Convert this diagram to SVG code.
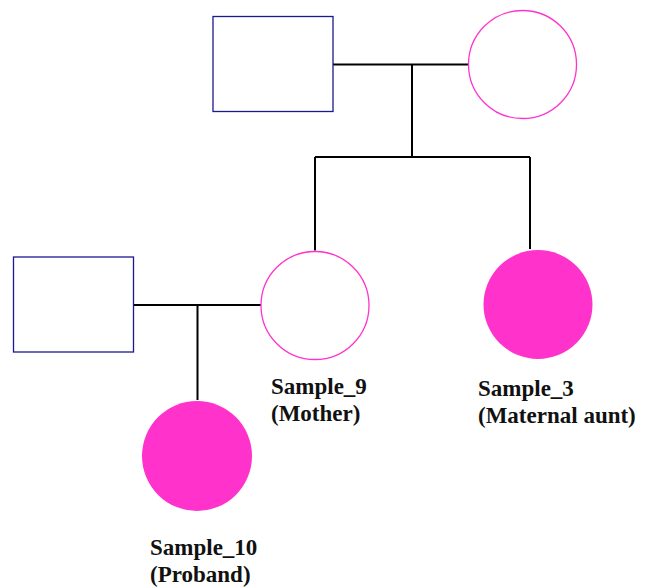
<svg xmlns="http://www.w3.org/2000/svg" width="651" height="588" viewBox="0 0 651 588">
<style>
.m{fill:#fff;stroke:#1a1a90;stroke-width:1.3}
.f{fill:#fff;stroke:#ff33cc;stroke-width:1.3}
.a{fill:#ff33cc;stroke:none}
.c{stroke:#000;stroke-width:2;fill:none}
.t{font-family:"Liberation Serif",serif;font-weight:bold;font-size:23px;fill:#111}
</style>
<rect width="651" height="588" fill="#fff"/>
<g id="connectors">
<path class="c" d="M333 64.5H468M412 64.5V157M315 157H530M315 157V250.5M530 157V249M134 305H261M197.5 305V400"/>
</g>
<g id="grandfather"><rect class="m" x="213" y="16.5" width="120" height="95"/></g>
<g id="grandmother"><circle class="f" cx="522.5" cy="64.5" r="54"/></g>
<g id="father"><rect class="m" x="13.5" y="257" width="120" height="95"/></g>
<g id="sample9"><circle class="f" cx="315" cy="305.5" r="54"/>
<text class="t" x="271" y="394">Sample_9</text><text class="t" x="271" y="421">(Mother)</text></g>
<g id="sample3"><circle class="a" cx="538" cy="304.5" r="54.5"/>
<text class="t" x="478" y="396">Sample_3</text><text class="t" x="478" y="423">(Maternal aunt)</text></g>
<g id="sample10"><circle class="a" cx="197" cy="456" r="55"/>
<text class="t" x="150" y="555">Sample_10</text><text class="t" x="150" y="582">(Proband)</text></g>
</svg>
